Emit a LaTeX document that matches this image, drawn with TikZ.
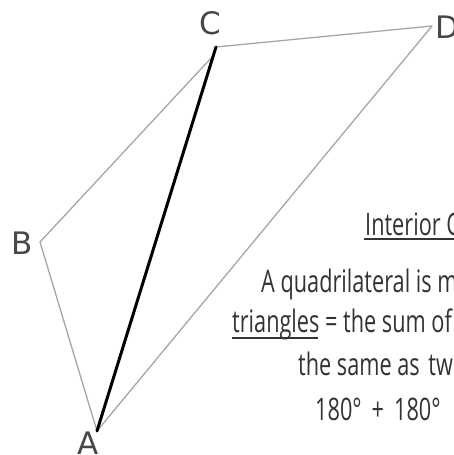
\documentclass[tikz,border=0pt]{standalone}
\usepackage{fontspec}
\setmainfont{DejaVu Sans}
\newfontfamily\hand[FakeStretch=0.7]{Open Sans}
\begin{document}
\begin{tikzpicture}[x=1pt,y=-1pt,
  edge/.style={draw=black!35, line width=1.3pt, line cap=round, line join=round},
  diag/.style={draw=black, line width=3pt, line cap=round},
  vlabel/.style={font=\fontsize{31}{31}\selectfont, text=black!72, inner sep=0pt},
  handtext/.style={font=\hand\fontsize{31}{31}\selectfont, text=black!80, inner sep=0pt, anchor=base west},
  uline/.style={draw=black!80, line width=1.2pt}]
\useasboundingbox (0,0) rectangle (454,455);
\clip (0,0) rectangle (454,455);
\fill[white] (0,0) rectangle (454,455);
\coordinate (A) at (97,431);
\coordinate (B) at (40,242);
\coordinate (C) at (216,47);
\coordinate (Cb) at (213,56);
\coordinate (D) at (432,26);
\draw[edge] (A) -- (B) -- (Cb);
\draw[edge] (C) -- (D) -- (A);
\draw[diag] (A) -- (C);
\node[vlabel] (lA) at (88,443) {A};
\node[vlabel] (lB) at (22,243) {B};
\node[vlabel] (lC) at (210,23) {C};
\node[vlabel] (lD) at (447,27) {D};
\node[handtext] (t1) at (365,235) {Interior C};
\draw[uline] (364,239) -- (454,239);
\node[handtext] (t2) at (261,292) {A quadrilateral is m};
\node[handtext] (t3) at (232,332) {triangles = the sum of};
\draw[uline] (232,338) -- (318,338);
\node[handtext] (t4) at (298,375) {the same as\hspace{3pt} tw};
\node[handtext] (t5) at (315,420) {180°\hspace{10pt}+\hspace{10pt}180°};
\end{tikzpicture}
\end{document}
